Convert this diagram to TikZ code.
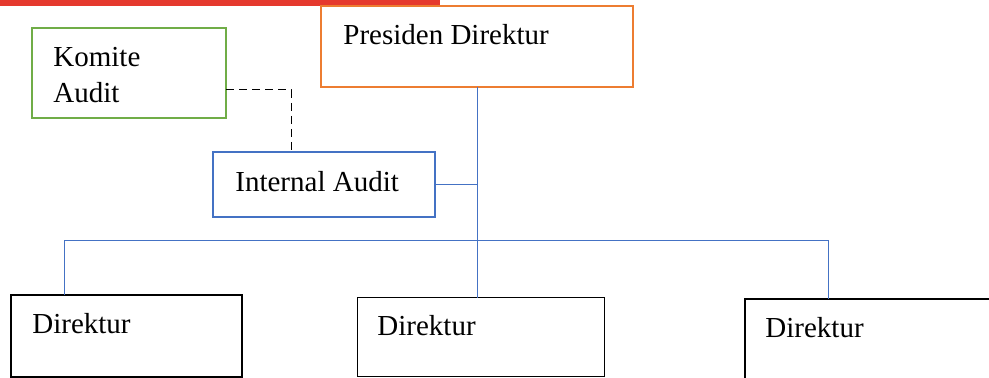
\documentclass[tikz,border=0pt]{standalone}
\usepackage{fontspec}
\setmainfont{Liberation Serif}
\definecolor{oranye}{HTML}{ED7D31}
\definecolor{hijau}{HTML}{70AD47}
\definecolor{biru}{HTML}{4472C4}
\definecolor{merah}{HTML}{E5392E}
\begin{document}
\begin{tikzpicture}[x=0.5pt,y=-0.5pt]

        \clip (0,0) rectangle (989,378);
        \fill[merah] (0,0) rectangle (440,6);

        \begin{scope}[every node/.style={rectangle, inner sep=0pt, outer sep=0pt}]
          \node[draw=oranye, line width=1pt, minimum width=156pt, minimum height=40.5pt] (pres) at (477,46.5) {};
          \node[draw=hijau, line width=1pt, minimum width=97pt, minimum height=45pt] (komite) at (129,73) {};
          \node[draw=biru, line width=1.1pt, minimum width=111pt, minimum height=32.5pt] (internal) at (324,184.5) {};
          \node[draw=black, line width=1pt, minimum width=115.5pt, minimum height=41pt] (dir1) at (126.5,336) {};
          \node[draw=black, line width=0.5pt, minimum width=123.5pt, minimum height=39.5pt] (dir2) at (480.5,337.5) {};
          \node[draw=black, line width=0.6pt, minimum width=127.5pt, minimum height=45.5pt] (dir3) at (872.5,344.5) {};
        \end{scope}

        \begin{scope}[every node/.style={anchor=base west, inner sep=0pt, font=\fontsize{14.5}{18}\selectfont}]
          \node (tpres) at (343,45) {Presiden Direktur};
          \node[align=left] (tkomite) at (53,103) {Komite\\Audit};
          \node (tinternal) at (235,192) {Internal Audit};
          \node (tdir1) at (32,334) {Direktur};
          \node (tdir2) at (377,336) {Direktur};
          \node (tdir3) at (765,338) {Direktur};
        \end{scope}

        \coordinate (kd) at (291,90);
        \coordinate (busL) at (64,241);
        \coordinate (busR) at (828,241);

        \begin{scope}[biru, line width=0.5pt]
          \draw (pres.south) -- (pres.south |- dir2.north);
          \draw (internal.east) -- (internal.east -| pres.south);
          \draw (busL |- dir1.north) -- (busL) -- (busR) -- (busR |- dir3.north);
        \end{scope}
        \draw[dash pattern=on 4pt off 2.5pt, line width=0.5pt] (kd -| komite.east) -- (kd) -- (kd |- internal.north);

      \end{tikzpicture}
\end{document}
